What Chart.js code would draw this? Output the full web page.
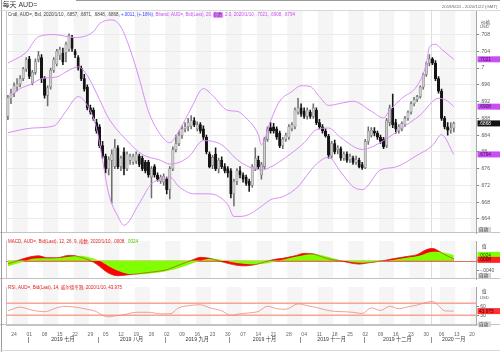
<!DOCTYPE html>
<html>
<head>
<meta charset="utf-8">
<title>每天 AUD=</title>
<script src="https://cdn.jsdelivr.net/npm/chart.js@4.4.1/dist/chart.umd.min.js"></script>
<style>
  html, body { margin: 0; padding: 0; background: #fff; }
  #wrap { position: relative; width: 500px; height: 352px; overflow: hidden; background: #fff; }
  #wrap canvas { position: absolute; left: 0; }
</style>
</head>
<body>
<div id="wrap">
  <canvas id="priceChart" width="500" height="237" style="top:0"></canvas>
  <canvas id="macdChart" width="500" height="46" style="top:237px"></canvas>
  <canvas id="rsiChart" width="500" height="69" style="top:283px"></canvas>
</div>
<script>
// ---- data ----
const firstDay = '2019-06-20';
const lastDay = '2020-01-21';
const monthNames = {
  '2019-07': '2019 七月', '2019-08': '2019 八月', '2019-09': '2019 九月', '2019-10': '2019 十月',
  '2019-11': '2019 十一月', '2019-12': '2019 十二月', '2020-01': '2020 一月'
};

const open = [
  .6885,.6928,.6940,.6955,.6962,.6975,.6998,.7022,.6965,.6990,
  .7020,.7025,.6975,.6935,.6955,.6995,.7010,.7030,.7035,.7037,
  .7045,.7072,.7040,.7025,.7000,.6975,.6955,.6905,.6900,.6870,
  .6860,.6815,.6790,.6760,.6780,.6765,.6810,.6765,.6800,.6760,
  .6780,.6775,.6778,.6790,.6785,.6775,.6775,.6740,.6765,.6745,
  .6730,.6728,.6735,.6710,.6760,.6805,.6820,.6840,.6855,.6860,
  .6862,.6875,.6855,.6865,.6855,.6835,.6795,.6768,.6795,.6760,
  .6780,.6765,.6760,.6755,.6700,.6730,.6755,.6745,.6740,.6730,
  .6720,.6760,.6780,.6745,.6765,.6830,.6858,.6860,.6855,.6845,
  .6815,.6830,.6835,.6855,.6860,.6895,.6905,.6898,.6885,.6895,
  .6885,.6900,.6870,.6860,.6850,.6838,.6790,.6820,.6805,.6808,
  .6785,.6795,.6782,.6785,.6775,.6780,.6770,.6762,.6825,.6840,
  .6850,.6845,.6835,.6830,.6815,.6870,.6905,.6870,.6850,.6855,
  .6865,.6880,.6895,.6915,.6925,.6932,.6955,.6985,.7012,.7022,
  .7012,.6975,.6945,.6880,.6860,.6852,.6857
];
const high = [
  .6935,.6950,.6965,.6975,.6982,.7002,.7025,.7028,.6995,.7022,
  .7040,.7032,.6980,.6958,.7000,.7025,.7045,.7050,.7048,.7062,
  .7082,.7078,.7045,.7030,.7005,.6985,.6960,.6912,.6905,.6878,
  .6865,.6825,.6795,.6788,.6805,.6830,.6815,.6790,.6810,.6800,
  .6795,.6795,.6800,.6795,.6790,.6780,.6780,.6765,.6770,.6750,
  .6745,.6748,.6740,.6765,.6812,.6840,.6850,.6862,.6870,.6880,
  .6887,.6882,.6872,.6870,.6862,.6840,.6800,.6792,.6810,.6785,
  .6788,.6772,.6765,.6760,.6735,.6760,.6765,.6750,.6745,.6735,
  .6770,.6810,.6790,.6775,.6835,.6860,.6870,.6868,.6860,.6850,
  .6835,.6845,.6865,.6870,.6905,.6928,.6915,.6905,.6905,.6900,
  .6915,.6905,.6878,.6865,.6855,.6842,.6825,.6828,.6815,.6812,
  .6800,.6800,.6795,.6790,.6790,.6785,.6775,.6830,.6860,.6858,
  .6858,.6850,.6840,.6835,.6880,.6912,.6938,.6878,.6865,.6872,
  .6885,.6898,.6920,.6930,.6935,.6958,.6988,.7015,.7032,.7025,
  .7018,.6980,.6950,.6885,.6870,.6870,.6871
];
const low = [
  .6877,.6915,.6932,.6945,.6955,.6970,.6992,.6975,.6960,.6985,
  .7015,.6965,.6928,.6910,.6950,.6990,.7005,.7020,.7008,.7015,
  .7040,.7040,.7025,.6995,.6970,.6945,.6900,.6890,.6875,.6845,
  .6810,.6785,.6750,.6745,.6677,.6760,.6760,.6755,.6745,.6755,
  .6770,.6770,.6772,.6765,.6755,.6750,.6740,.6690,.6740,.6730,
  .6725,.6720,.6700,.6688,.6755,.6800,.6815,.6832,.6848,.6850,
  .6855,.6860,.6850,.6845,.6830,.6795,.6762,.6760,.6755,.6750,
  .6760,.6750,.6740,.6690,.6671,.6722,.6738,.6728,.6720,.6706,
  .6715,.6755,.6760,.6735,.6760,.6825,.6845,.6845,.6830,.6810,
  .6808,.6825,.6830,.6850,.6855,.6890,.6885,.6880,.6878,.6880,
  .6880,.6865,.6855,.6845,.6835,.6785,.6785,.6795,.6795,.6780,
  .6780,.6775,.6775,.6770,.6770,.6762,.6758,.6760,.6818,.6835,
  .6838,.6830,.6820,.6808,.6810,.6862,.6858,.6845,.6845,.6850,
  .6860,.6875,.6890,.6910,.6920,.6928,.6950,.6980,.7005,.7008,
  .6970,.6940,.6875,.6855,.6840,.6845,.6848
];
const close = [
  .6930,.6940,.6958,.6962,.6975,.6998,.7020,.6980,.6990,.7015,
  .7030,.6975,.6935,.6953,.6995,.7020,.7040,.7045,.7015,.7057,
  .7078,.7047,.7032,.7000,.6975,.6950,.6905,.6895,.6880,.6850,
  .6815,.6790,.6760,.6782,.6795,.6810,.6765,.6785,.6760,.6795,
  .6790,.6790,.6795,.6770,.6760,.6755,.6745,.6760,.6745,.6735,
  .6740,.6742,.6710,.6760,.6805,.6820,.6840,.6855,.6860,.6870,
  .6875,.6865,.6865,.6850,.6835,.6800,.6765,.6787,.6760,.6780,
  .6765,.6755,.6750,.6700,.6730,.6755,.6745,.6735,.6725,.6720,
  .6765,.6785,.6765,.6770,.6830,.6855,.6850,.6850,.6835,.6815,
  .6830,.6840,.6860,.6865,.6900,.6905,.6890,.6885,.6900,.6885,
  .6905,.6870,.6860,.6850,.6838,.6792,.6820,.6800,.6810,.6785,
  .6795,.6780,.6790,.6775,.6782,.6765,.6762,.6825,.6850,.6852,
  .6845,.6835,.6825,.6812,.6875,.6905,.6865,.6855,.6860,.6868,
  .6880,.6895,.6915,.6925,.6932,.6955,.6985,.7012,.7022,.7012,
  .6975,.6945,.6880,.6860,.6852,.6857,.6868
];

// Bollinger band (20, exponential, 2.0), sampled at bar indices
const upperIdx = [0,6,10,15,22,28,30,34,37,40,43,46,50,53,56,60,64,67,72,75,78,82,83,86,89,93,96,99,102,105,109,113,119,123,125,129,134,137,138,140,142,146];
const upperVal = [.7012,.7038,.7075,.7080,.7073,.7087,.7106,.7115,.7098,.7045,.6975,.6897,.6841,.6822,.6850,.6904,.6951,.6935,.6899,.6897,.6881,.6841,.6817,.6874,.6921,.6944,.6958,.6956,.6932,.6911,.6916,.6921,.6897,.6881,.6899,.6928,.6958,.7010,.7050,.7057,.7045,.7021];
const midIdx = [0,4,8,11,16,19,23,26,28,30,33,39,44,50,53,59,64,70,75,79,83,86,91,97,101,105,109,116,123,129,135,141,144,146];
const midVal = [.6928,.6951,.6963,.6975,.6979,.6991,.7003,.6982,.6955,.6925,.6880,.6827,.6794,.6780,.6771,.6787,.6827,.6817,.6782,.6764,.6757,.6764,.6787,.6822,.6853,.6857,.6834,.6806,.6827,.6857,.6888,.6928,.6921,.6908];
const lowIdx = [0,8,15,19,23,26,29,31,33,36,38,43,47,51,53,56,61,66,72,74,76,79,83,86,90,95,98,101,105,109,113,116,122,127,134,139,142,146];
const lowVal = [.6846,.6857,.6862,.6897,.6932,.6911,.6857,.6780,.6700,.6646,.6625,.6677,.6724,.6735,.6740,.6717,.6700,.6700,.6674,.6646,.6646,.6651,.6670,.6686,.6693,.6717,.6745,.6771,.6787,.6752,.6717,.6710,.6757,.6764,.6792,.6815,.6841,.6794];

// MACD (12, 26, 9) and its signal line
const macdIdx = [0,3,6,10,13,16,20,22,25,28,30,32,34,36,38,41,44,48,52,55,58,61,63,66,69,72,75,78,81,84,87,90,94,97,100,103,106,109,112,115,118,121,124,127,131,134,137,139,141,143,146];
const macdVal = [-.0012,.0000,.0012,.0020,.0012,.0012,.0022,.0020,.0010,-.0005,-.0022,-.0042,-.0055,-.0060,-.0058,-.0054,-.0050,-.0044,-.0036,-.0022,-.0008,.0006,.0014,.0010,.0000,-.0010,-.0018,-.0020,-.0015,-.0005,.0005,.0010,.0020,.0030,.0028,.0015,.0005,.0000,-.0008,-.0013,-.0008,-.0003,.0003,.0010,.0018,.0025,.0045,.0050,.0040,.0025,.0008];
const sigIdx = [0,4,8,12,16,20,24,27,30,33,36,39,42,45,48,51,54,57,60,62,64,67,70,73,77,81,85,88,91,95,99,102,105,108,111,115,119,123,127,131,135,139,142,146];
const sigVal = [-.0022,-.0008,.0008,.0010,.0011,.0016,.0020,.0012,.0000,-.0022,-.0040,-.0052,-.0055,-.0053,-.0049,-.0044,-.0036,-.0025,-.0012,-.0004,.0004,.0008,.0004,-.0005,-.0012,-.0015,-.0010,-.0002,.0007,.0018,.0027,.0025,.0015,.0005,-.0002,-.0008,-.0007,-.0002,.0005,.0013,.0022,.0037,.0035,.0024];

// RSI (14, Wilder)
const rsiIdx = [0,4,8,12,16,19,22,26,29,31,33,35,38,42,46,50,53,56,60,63,66,70,73,76,79,82,85,88,91,95,98,101,104,107,110,113,116,119,122,125,128,131,134,137,139,141,143,146];
const rsiVal = [45,57,47,42,55,60,57,50,42,30,25,28,32,40,40,35,35,55,63,65,55,45,30,35,38,43,60,52,50,68,62,56,48,43,42,40,36,55,46,60,52,58,64,73,76,62,45,43.975];
const rsiLevels = [70, 30];

// ---- helpers ----
const FONT = '"Liberation Sans", "Noto Sans CJK SC", sans-serif';
const PLOT_LEFT = 6.4;
const AXIS_W = 23.3;

const days = [];
for (let t = Date.parse(firstDay); t <= Date.parse(lastDay); t += 864e5) {
  const d = new Date(t);
  if (d.getUTCDay() % 6 !== 0) days.push(d.toISOString().slice(0, 10));
}
const pts = (idx, val) => idx.map((i, k) => ({ x: days[i], y: val[k] }));
const p4 = v => (v < 0 ? '-' : '') + Math.abs(v).toFixed(4).replace(/^0/, '');
const last = close.length - 1;
const lastDate = days[last].split('-').map(Number).join('/');
const isUp = close.map((c, i) => c >= open[i]);

function txt(ctx, s, x, y, size, color, align) {
  ctx.font = size + 'px ' + FONT;
  ctx.fillStyle = color;
  ctx.textAlign = align || 'left';
  ctx.textBaseline = 'middle';
  ctx.fillText(s, x, y);
  return ctx.measureText(s).width;
}
function tag(ctx, y, s, bg, fg) {
  ctx.fillStyle = bg;
  ctx.fillRect(477.5, y - 3, 22.5, 6);
  txt(ctx, s, 479, y + 0.3, 4.8, fg);
}
function autoBtn(ctx, yb) {
  ctx.fillStyle = '#d4d4d4';
  ctx.fillRect(478, yb - 5.5, 13, 5.5);
  txt(ctx, '自动', 479, yb - 2.7, 4.5, '#333');
}

// alternating weekly background + year divider + frame
const panelBg = {
  id: 'panelBg',
  beforeDraw(chart) {
    const { ctx, chartArea: a } = chart;
    const x = chart.scales.x;
    const half = (x.getPixelForValue(1) - x.getPixelForValue(0)) / 2;
    const monday0 = Date.parse('2019-06-24');
    const grey = i => {
      const wk = Math.floor((Date.parse(days[i]) - monday0) / (7 * 864e5));
      return ((wk % 2) + 2) % 2 === 0;
    };
    ctx.save();
    ctx.fillStyle = '#f5f5f5';
    let s = -1;
    for (let i = 0; i <= days.length; i++) {
      const g = i < days.length && grey(i);
      if (g && s < 0) s = i;
      if (!g && s >= 0) {
        const x0 = x.getPixelForValue(s) - half;
        const x1 = Math.min(x.getPixelForValue(i - 1) + half, a.right);
        ctx.fillRect(x0, a.top, x1 - x0, a.bottom - a.top);
        s = -1;
      }
    }
    const ny = days.findIndex(d => d.startsWith('2020'));
    const xl = Math.round(x.getPixelForValue(ny) - half) + 0.5;
    ctx.strokeStyle = '#dcdcdc';
    ctx.lineWidth = 1;
    ctx.beginPath(); ctx.moveTo(xl, a.top); ctx.lineTo(xl, a.bottom); ctx.stroke();
    ctx.strokeStyle = '#c4c4c4';
    ctx.beginPath();
    ctx.moveTo(Math.round(a.left) + 0.5, a.top); ctx.lineTo(Math.round(a.left) + 0.5, a.bottom);
    ctx.moveTo(0, Math.round(a.bottom) - 0.5); ctx.lineTo(500, Math.round(a.bottom) - 0.5);
    ctx.stroke();
    ctx.strokeStyle = '#9a9a9a';
    ctx.beginPath(); ctx.moveTo(1.5, 0); ctx.lineTo(1.5, chart.height); ctx.stroke();
    ctx.restore();
  }
};

const baseScales = (yOpts) => ({
  x: { type: 'category', display: false, offset: true, grid: { display: false } },
  y: Object.assign({
    position: 'right',
    afterFit: s => { s.width = AXIS_W; },
    border: { color: '#a8a8a8' },
    grid: { drawOnChartArea: false, tickLength: 2.5, tickColor: '#888' },
    ticks: { font: { family: FONT, size: 5 }, color: '#555', padding: 1 }
  }, yOpts)
});
const baseOpts = (top, scales) => ({
  responsive: false,
  animation: false,
  devicePixelRatio: 1,
  layout: { padding: { left: PLOT_LEFT, right: 0, top: top, bottom: 0 } },
  plugins: { legend: { display: false }, tooltip: { enabled: false } },
  scales: scales
});

// ---- price panel ----
const BAND = '#d98ef5';
const bandLine = (data) => ({
  type: 'line', data: data, borderColor: BAND, borderWidth: 1, pointRadius: 0,
  cubicInterpolationMode: 'monotone', fill: false, order: 0
});
const priceScales = baseScales({
  min: .66065, max: .71363,
  afterBuildTicks: s => { s.ticks = s.ticks.filter(t => t.value < .7101); },
  grid: { drawOnChartArea: true, color: '#ebebeb', tickLength: 2.5, tickColor: '#888' },
  ticks: {
    stepSize: .004, includeBounds: false, font: { family: FONT, size: 5 }, color: '#555', padding: 1,
    callback: v => String(+v.toFixed(3)).replace(/^0\./, '.')
  }
});

new Chart(document.getElementById('priceChart'), {
  type: 'bar',
  data: {
    labels: days,
    datasets: [
      bandLine(pts(upperIdx, upperVal)),
      bandLine(pts(midIdx, midVal)),
      bandLine(pts(lowIdx, lowVal)),
      {
        type: 'bar', data: close.map((c, i) => [open[i], c]), grouped: false, order: 1,
        barThickness: 2.4, minBarLength: 0.8, borderSkipped: false, borderWidth: 0.6,
        backgroundColor: isUp.map(u => u ? '#cfcfcf' : '#141414'),
        borderColor: isUp.map(u => u ? '#7c7c7c' : '#141414')
      },
      {
        type: 'bar', data: close.map((c, i) => [low[i], high[i]]), grouped: false, order: 2,
        barThickness: 0.9, borderWidth: 0,
        backgroundColor: isUp.map(u => u ? '#6e6e6e' : '#141414')
      }
    ]
  },
  options: baseOpts(11, priceScales),
  plugins: [panelBg, {
    id: 'priceText',
    afterDraw(chart) {
      const { ctx, chartArea: a, scales: { y } } = chart;
      ctx.save();
      ctx.fillStyle = '#9a9a9a'; ctx.fillRect(76, 0, 424, 1);
      ctx.fillStyle = '#cfcfcf'; ctx.fillRect(0, 10, 500, 0.8);
      txt(ctx, '每天 AUD=', 2.5, 5, 7, '#333');
      txt(ctx, '2019/6/20 - 2020/1/22 (GMT)', 497.5, 6.5, 4.3, '#666', 'right');
      const chg = close[last] - close[last - 1];
      const pct = chg / close[last - 1] * 100;
      let x = 8;
      const hy = 15;
      x += txt(ctx, `Cndl, AUD=, Bid, ${lastDate}, ${p4(open[last])}, ${p4(high[last])}, ${p4(low[last])}, ${p4(close[last])}, `, x, hy, 4.5, '#444');
      x += txt(ctx, `${chg >= 0 ? '+' : ''}${p4(chg)}, (${pct >= 0 ? '+' : ''}${pct.toFixed(2).replace(/^0/, '')}%), `, x, hy, 4.5, '#3340ff');
      x += txt(ctx, 'Bband, AUD=, Bid(Last), 20, ', x, hy, 4.5, '#c84ef0');
      ctx.font = '4.5px ' + FONT;
      const w = ctx.measureText('指数').width;
      ctx.fillStyle = '#e98cff'; ctx.fillRect(x - 0.3, hy - 2.8, w + 0.6, 5.6);
      x += txt(ctx, '指数', x, hy, 4.5, '#7a1a9a');
      txt(ctx, `, 2.0, ${lastDate}, ${p4(upperVal[upperVal.length - 1])}, ${p4(midVal[midVal.length - 1])}, ${p4(lowVal[lowVal.length - 1])}`, x, hy, 4.5, '#c84ef0');
      txt(ctx, '价格', 481, 22.5, 4.6, '#444');
      txt(ctx, 'USD', 480, 27, 4.2, '#555');
      tag(ctx, y.getPixelForValue(upperVal[upperVal.length - 1]), p4(upperVal[upperVal.length - 1]), '#c94df5', '#3a1050');
      tag(ctx, y.getPixelForValue(midVal[midVal.length - 1]), p4(midVal[midVal.length - 1]), '#c94df5', '#3a1050');
      tag(ctx, y.getPixelForValue(close[last]), p4(close[last]), '#111', '#fff');
      tag(ctx, y.getPixelForValue(lowVal[lowVal.length - 1]), p4(lowVal[lowVal.length - 1]), '#c94df5', '#3a1050');
      autoBtn(ctx, a.bottom - 0.5);
      ctx.restore();
    }
  }]
});

// ---- MACD panel ----
const macdScales = baseScales({
  min: -.00733, max: .008,
  afterBuildTicks: s => { s.ticks = [{ value: -.004 }, { value: 0 }]; },
  ticks: { font: { family: FONT, size: 5 }, color: '#555', padding: 1, callback: v => p4(v) }
});
new Chart(document.getElementById('macdChart'), {
  type: 'line',
  data: {
    labels: days,
    datasets: [
      { data: pts(macdIdx, macdVal), borderColor: '#b8322a', borderWidth: 0.6, pointRadius: 0, fill: false, cubicInterpolationMode: 'monotone', order: 0 },
      { data: pts(sigIdx, sigVal), borderWidth: 0, borderColor: 'rgba(0,0,0,0)', backgroundColor: '#80ff00', pointRadius: 0, fill: 'origin', cubicInterpolationMode: 'monotone', order: 1 },
      { data: pts(macdIdx, macdVal), borderWidth: 0.5, borderColor: '#ff0000', backgroundColor: '#ff0000', pointRadius: 0, fill: 'origin', cubicInterpolationMode: 'monotone', order: 2 }
    ]
  },
  options: baseOpts(0, macdScales),
  plugins: [panelBg, {
    id: 'macdText',
    beforeDatasetsDraw(chart) {
      const { ctx, chartArea: a, scales: { y } } = chart;
      const y0 = Math.round(y.getPixelForValue(0)) + 0.5;
      ctx.save();
      ctx.strokeStyle = '#e04a3a'; ctx.lineWidth = 0.8;
      ctx.beginPath(); ctx.moveTo(a.left, y0); ctx.lineTo(a.right, y0); ctx.stroke();
      ctx.restore();
    },
    afterDraw(chart) {
      const { ctx, chartArea: a, scales: { y } } = chart;
      ctx.save();
      let x = 8;
      x += txt(ctx, `MACD, AUD=, Bid(Last), 12, 26, 9, 指数, ${lastDate}, ${p4(macdVal[macdVal.length - 1])}, `, x, 4.5, 4.5, '#e02020');
      txt(ctx, p4(sigVal[sigVal.length - 1]), x, 4.5, 4.5, '#4fc000');
      txt(ctx, '值', 482, 10, 4.6, '#444');
      tag(ctx, y.getPixelForValue(sigVal[sigVal.length - 1]), p4(sigVal[sigVal.length - 1]), '#80ff00', '#224400');
      tag(ctx, y.getPixelForValue(macdVal[macdVal.length - 1]) + 1, p4(macdVal[macdVal.length - 1]), '#ff2020', '#400000');
      autoBtn(ctx, a.bottom - 0.5);
      ctx.restore();
    }
  }]
});

// ---- RSI panel with the date axis ----
const rsiScales = baseScales({
  min: -2.1, max: 123.9,
  afterBuildTicks: s => { s.ticks = [{ value: 30 }, { value: 60 }]; },
  ticks: { font: { family: FONT, size: 5 }, color: '#555', padding: 1 }
});
rsiScales.x = {
  type: 'category', offset: true, display: true,
  afterFit: s => { s.height = 27; },
  grid: { display: false, drawTicks: false },
  border: { display: true, color: '#c4c4c4' },
  ticks: {
    autoSkip: false, maxRotation: 0, padding: 6.5, color: '#666', font: { family: FONT, size: 5 },
    callback: (v, i) => new Date(days[i]).getUTCDay() === 1 ? days[i].slice(8) : ''
  }
};
new Chart(document.getElementById('rsiChart'), {
  type: 'line',
  data: {
    labels: days,
    datasets: [
      { data: pts(rsiIdx, rsiVal), borderColor: '#f2877a', borderWidth: 0.8, pointRadius: 0, fill: false, cubicInterpolationMode: 'monotone' }
    ]
  },
  options: baseOpts(0, rsiScales),
  plugins: [panelBg, {
    id: 'rsiText',
    beforeDatasetsDraw(chart) {
      const { ctx, chartArea: a, scales: { y } } = chart;
      ctx.save();
      ctx.strokeStyle = '#f6a494'; ctx.lineWidth = 1.4;
      rsiLevels.forEach(v => {
        const yy = y.getPixelForValue(v);
        ctx.beginPath(); ctx.moveTo(a.left, yy); ctx.lineTo(a.right, yy); ctx.stroke();
      });
      ctx.restore();
    },
    afterDraw(chart) {
      const { ctx, chartArea: a, scales: { x, y } } = chart;
      ctx.save();
      txt(ctx, `RSI, AUD=, Bid(Last), 14, 威尔德平滑, ${lastDate}, ${rsiVal[rsiVal.length - 1]}`, 8, 4.5, 4.5, '#e02020');
      txt(ctx, '值', 482, 9, 4.6, '#444');
      txt(ctx, 'USD', 480, 15, 4.2, '#555');
      tag(ctx, y.getPixelForValue(rsiVal[rsiVal.length - 1]), String(rsiVal[rsiVal.length - 1]), '#ff3030', '#3a0000');
      autoBtn(ctx, a.bottom + 2);
      // month captions under the day numbers
      const half = (x.getPixelForValue(1) - x.getPixelForValue(0)) / 2;
      const keys = Object.keys(monthNames);
      const bounds = keys.map(k => x.getPixelForValue(days.findIndex(d => d.startsWith(k))) - half);
      ctx.strokeStyle = '#777'; ctx.lineWidth = 0.8;
      keys.forEach((k, j) => {
        const b0 = bounds[j];
        const b1 = j + 1 < bounds.length ? bounds[j + 1] : a.right;
        const bx = Math.round(b0) + 0.5;
        ctx.beginPath(); ctx.moveTo(bx, a.bottom + 12); ctx.lineTo(bx, a.bottom + 18); ctx.stroke();
        txt(ctx, monthNames[k], (b0 + b1) / 2, a.bottom + 15, 5.2, '#333', 'center');
      });
      ctx.fillStyle = '#d8d8d8'; ctx.fillRect(0, chart.height - 2, 500, 1);
      ctx.restore();
    }
  }]
});
</script>
</body>
</html>
